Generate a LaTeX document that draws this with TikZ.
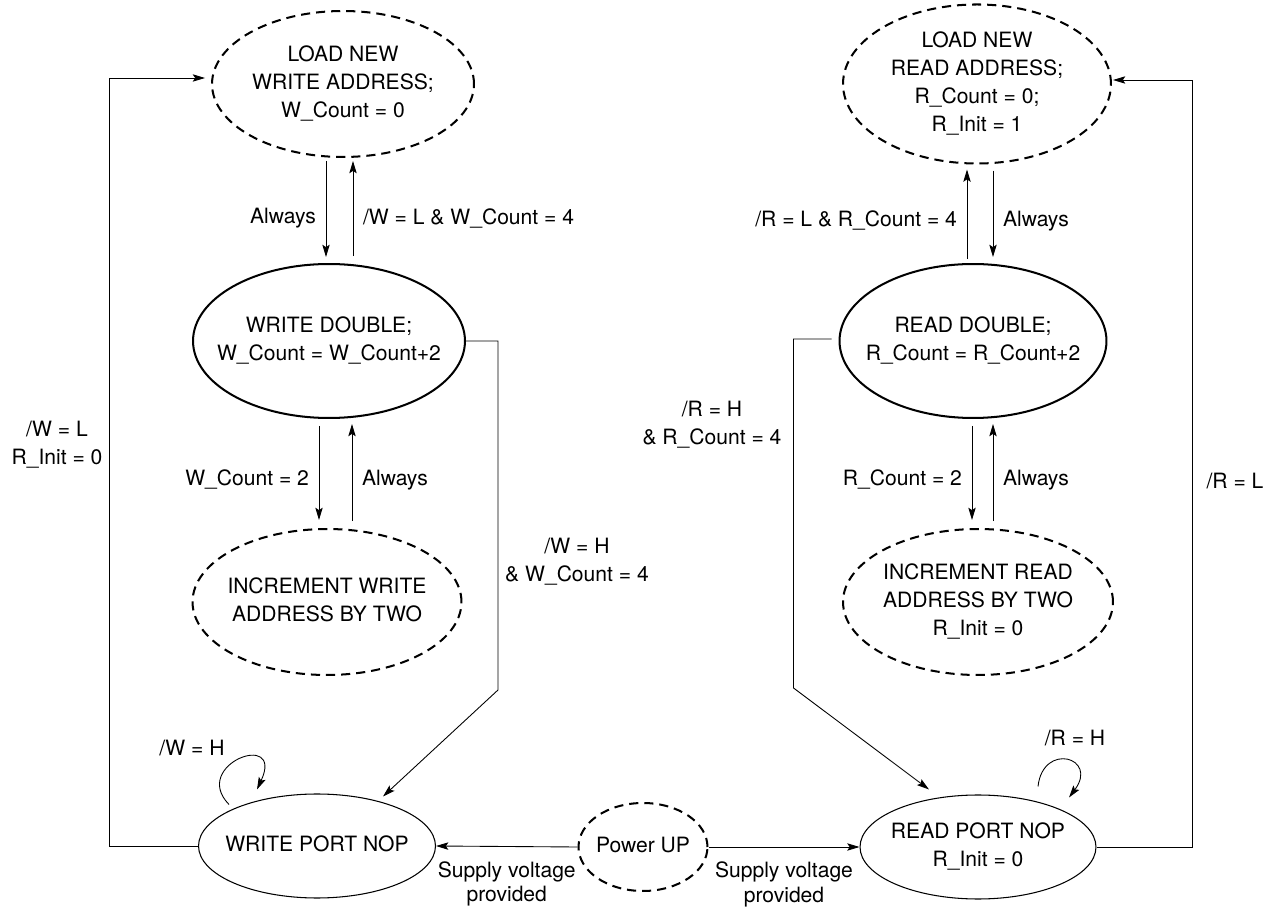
\documentclass[tikz,border=0pt]{standalone}
\usepackage{fontspec}
\setmainfont{TeX Gyre Heros}
\usetikzlibrary{shapes.geometric,arrows.meta,calc}
\newcommand{\statetext}[1]{\makebox[0pt]{\begin{tabular}{@{}c@{}}#1\end{tabular}}}

\begin{document}
\begin{tikzpicture}[x=0.02cm,y=-0.02cm,>={Stealth[length=7pt,width=4.2pt,inset=1.4pt]},line width=0.5pt,
  font=\fontsize{12}{16}\selectfont,
  dashstate/.style={ellipse,draw,line width=1.15pt,dash pattern=on 5.2pt off 3.4pt,inner sep=0pt},
  boldstate/.style={ellipse,draw,line width=1.15pt,inner sep=0pt},
  thinstate/.style={ellipse,draw,line width=0.6pt,inner sep=0pt},
  lbl/.style={inner sep=5.5pt,align=center}]
\useasboundingbox (0,0) rectangle (1272,908);

\node[dashstate,minimum width=5.24cm,minimum height=2.92cm] (lw) at (343,84) {\statetext{LOAD NEW\\WRITE ADDRESS;\\W\_Count = 0}};
\node[dashstate,minimum width=5.36cm,minimum height=2.92cm] (lr) at (977,84) {\statetext{LOAD NEW\\READ ADDRESS;\\R\_Count = 0;\\R\_Init = 1}};
\node[boldstate,minimum width=5.44cm,minimum height=3.08cm] (wd) at (329,341) {\statetext{WRITE DOUBLE;\\W\_Count = W\_Count+2}};
\node[boldstate,minimum width=5.34cm,minimum height=3.08cm] (rd) at (973,341) {\statetext{READ DOUBLE;\\R\_Count = R\_Count+2}};
\node[dashstate,minimum width=5.38cm,minimum height=2.92cm] (iw) at (327,602) {\statetext{INCREMENT WRITE\\ADDRESS BY TWO}};
\node[dashstate,minimum width=5.40cm,minimum height=2.92cm] (ir) at (978,602) {\statetext{INCREMENT READ\\ADDRESS BY TWO\\R\_Init = 0}};
\node[thinstate,minimum width=4.74cm,minimum height=2.08cm] (wp) at (317,846) {\statetext{WRITE PORT NOP}};
\node[thinstate,minimum width=4.72cm,minimum height=2.08cm] (rp) at (978,847) {\statetext{READ PORT NOP\\R\_Init = 0}};
\node[dashstate,minimum width=2.58cm,minimum height=1.76cm] (pu) at (643,847) {\statetext{Power UP}};

% write side
\draw[->] ($(lw.south)+(-17,3)$) -- node[lbl,left,pos=0.6] (wa1) {Always} ($(wd.north)+(-3,-6)$);
\draw[->] ($(wd.north)+(24,-7)$) -- node[lbl,right,pos=0.4] (wl1) {/W = L \& W\_Count = 4} ($(lw.south)+(10,3)$);
\draw[->] ($(wd.south)+(-10,7)$) -- node[lbl,left,pos=0.57] (wc2) {W\_Count = 2} ($(iw.north)+(-8,-8)$);
\draw[->] ($(iw.north)+(25,-7)$) -- node[lbl,right,pos=0.42] (wa2) {Always} ($(wd.south)+(23,5)$);
\draw[->] (wd.east) -- ++(32,0) -- ++(0,349) -- ($(wp.north)+(66,3)$);
\node[lbl] (wh4) at (577,562) {/W = H\\\& W\_Count = 4};
\draw[->] (wp.west) -- ++(-89,0) |- ($(lw.west)+(-6,-6)$);
\node[lbl] (wlo) at (57,445) {/W = L\\R\_Init = 0};
\draw[->] ($(wp.north)+(-88,11)$) .. controls +(-39,-40) and +(28,-60) .. ($(wp.north)+(-60,-4)$);
\node[lbl] (wh) at (192,748) {/W = H};

% read side
\draw[->] ($(rd.north)+(-6,-4)$) -- node[lbl,left,pos=0.43] (rl1) {/R = L \& R\_Count = 4} ($(lr.south)+(-10,5)$);
\draw[->] ($(lr.south)+(16,6)$) -- node[lbl,right,pos=0.58] (ra1) {Always} ($(rd.north)+(20,-6)$);
\draw[->] ($(rd.south)+(-1,7)$) -- node[lbl,left,pos=0.57] (rc2) {R\_Count = 2} ($(ir.north)+(-6,-8)$);
\draw[->] ($(ir.north)+(15,-7)$) -- node[lbl,right,pos=0.42] (ra2) {Always} ($(rd.south)+(20,5)$);
\draw[->] ($(rd.west)+(-7,-2)$) -- ++(-38,0) -- ++(0,349) -- ($(rp.north)+(-49,-5)$);
\node[lbl] (rh4) at (712,425) {/R = H\\\& R\_Count = 4};
\draw[->] (rp.east) -- ++(96,0) |- ($(lr.east)+(1,-4)$);
\node[lbl] (rlo) at (1235,481) {/R = L};
\draw[->] ($(rp.north)+(60,-8)$) .. controls +(5,-45) and +(30,-40) .. ($(rp.north)+(91,3)$);
\node[lbl] (rh) at (1075,738) {/R = H};

% power up
\draw[->] (pu.west) -- node[lbl,below,yshift=-0.1cm,font=\fontsize{12}{14}\selectfont] (sw) {Supply voltage\\provided} (wp.east);
\draw[->] (pu.east) -- node[lbl,below,yshift=-0.1cm,font=\fontsize{12}{14}\selectfont] (sr) {Supply voltage\\provided} (rp.west);

\end{tikzpicture}
\end{document}
